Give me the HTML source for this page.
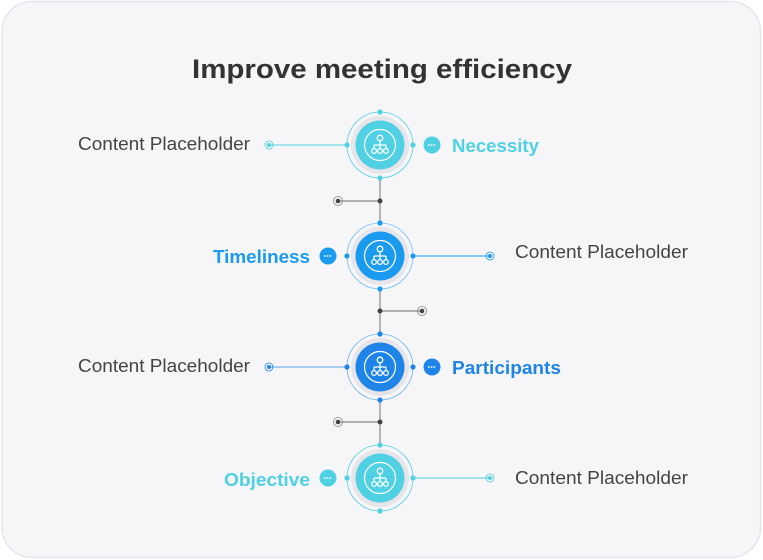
<!DOCTYPE html>
<html><head><meta charset="utf-8"><style>
html,body{margin:0;padding:0;background:#fff;}
svg{display:block;}
text{font-family:"Liberation Sans","DejaVu Sans",sans-serif;}
</style></head><body>
<svg width="763" height="560" viewBox="0 0 763 560">
<defs>
<g id="ico" fill="none" stroke="#fff" stroke-width="1.3">
  <circle r="15.5" stroke-width="1.2"/>
  <circle cx="0" cy="-7" r="2.8"/>
  <path d="M0 -4.2 V0 M-6 0 H6 M-6 0 V3.5 M0 0 V3.5 M6 0 V3.5"/>
  <circle cx="-6" cy="6" r="2.4"/><circle cx="0" cy="6" r="2.4"/><circle cx="6" cy="6" r="2.4"/>
</g>
<g id="chat">
  <path d="M-4 -1 H4" stroke="#fff" stroke-width="1.6" stroke-dasharray="1.6 1.2"/>
</g>
</defs>
<rect x="2" y="1.5" width="758.5" height="556" rx="30" fill="#f6f6f9" stroke="#e4e6ee" stroke-width="1.5"/>
<text x="192" y="78" font-size="27" font-weight="bold" fill="#333" textLength="380" lengthAdjust="spacingAndGlyphs">Improve meeting efficiency</text>

<g stroke="#8a8a8a" stroke-width="1.2">
<line x1="380" y1="178" x2="380" y2="223"/>
<line x1="380" y1="289" x2="380" y2="334"/>
<line x1="380" y1="400" x2="380" y2="445"/>
<line x1="338" y1="201" x2="380" y2="201"/>
<line x1="380" y1="311" x2="422" y2="311"/>
<line x1="338" y1="422" x2="380" y2="422"/>
</g>
<g fill="#444">
<circle cx="380" cy="201" r="2.5"/><circle cx="380" cy="311" r="2.5"/><circle cx="380" cy="422" r="2.5"/>
<circle cx="338" cy="201" r="2.3"/><circle cx="422" cy="311" r="2.3"/><circle cx="338" cy="422" r="2.3"/>
</g>
<g fill="none" stroke="#888" stroke-width="0.8">
<circle cx="338" cy="201" r="4.5"/><circle cx="422" cy="311" r="4.5"/><circle cx="338" cy="422" r="4.5"/>
</g>

<g transform="translate(380,145)">
<line x1="-33" y1="0" x2="-111" y2="0" stroke="#4fd0e3" stroke-width="1"/>
<circle cx="-111" cy="0" r="4" fill="none" stroke="#4fd0e3" stroke-width="0.8"/><circle cx="-111" cy="0" r="2" fill="#4fd0e3"/>
<circle r="33" fill="none" stroke="#4fd0e3" stroke-width="0.8"/>
<circle r="29" fill="#e6e6ea"/><circle r="24.5" fill="#4fd0e3"/>
<use href="#ico"/>
<g fill="#4fd0e3"><circle cy="-33" r="2.6"/><circle cy="33" r="2.6"/><circle cx="-33" r="2.6"/><circle cx="33" r="2.6"/></g>
<circle cx="52" cy="0" r="8.5" fill="#4fd0e3"/><use href="#chat" x="52" y="1"/>
</g>
<text x="78" y="150" font-size="18" fill="#444" textLength="172" lengthAdjust="spacingAndGlyphs">Content Placeholder</text>
<text x="452" y="152" font-size="18" font-weight="bold" fill="#4fd0e3" textLength="87" lengthAdjust="spacingAndGlyphs">Necessity</text>

<g transform="translate(380,256)">
<line x1="33" y1="0" x2="110" y2="0" stroke="#1a9bef" stroke-width="1"/>
<circle cx="110" cy="0" r="4" fill="none" stroke="#1a9bef" stroke-width="0.8"/><circle cx="110" cy="0" r="2" fill="#1a9bef"/>
<circle r="33" fill="none" stroke="#1a9bef" stroke-width="0.8" opacity="0.6"/>
<circle r="29" fill="#e6e6ea"/><circle r="24.5" fill="#1a9bef"/>
<use href="#ico"/>
<g fill="#1a9bef"><circle cy="-33" r="2.6"/><circle cy="33" r="2.6"/><circle cx="-33" r="2.6"/><circle cx="33" r="2.6"/></g>
<circle cx="-52" cy="0" r="8.5" fill="#1a9bef"/><use href="#chat" x="-52" y="1"/>
</g>
<text x="515" y="258" font-size="18" fill="#444" textLength="173" lengthAdjust="spacingAndGlyphs">Content Placeholder</text>
<text x="213" y="263" font-size="18" font-weight="bold" fill="#1a9bef" textLength="97" lengthAdjust="spacingAndGlyphs">Timeliness</text>

<g transform="translate(380,367)">
<line x1="-33" y1="0" x2="-111" y2="0" stroke="#1e84e8" stroke-width="1" opacity="0.7"/>
<circle cx="-111" cy="0" r="4" fill="none" stroke="#1e84e8" stroke-width="0.8"/><circle cx="-111" cy="0" r="2" fill="#1e84e8"/>
<circle r="33" fill="none" stroke="#1e84e8" stroke-width="0.8" opacity="0.6"/>
<circle r="29" fill="#e6e6ea"/><circle r="24.5" fill="#1e84e8"/>
<use href="#ico"/>
<g fill="#1e84e8"><circle cy="-33" r="2.6"/><circle cy="33" r="2.6"/><circle cx="-33" r="2.6"/><circle cx="33" r="2.6"/></g>
<circle cx="52" cy="0" r="8.5" fill="#1e84e8"/><use href="#chat" x="52" y="1"/>
</g>
<text x="78" y="372" font-size="18" fill="#444" textLength="172" lengthAdjust="spacingAndGlyphs">Content Placeholder</text>
<text x="452" y="374" font-size="18" font-weight="bold" fill="#1e84e8" textLength="109" lengthAdjust="spacingAndGlyphs">Participants</text>

<g transform="translate(380,478)">
<line x1="33" y1="0" x2="110" y2="0" stroke="#4fd0e3" stroke-width="1"/>
<circle cx="110" cy="0" r="4" fill="none" stroke="#4fd0e3" stroke-width="0.8"/><circle cx="110" cy="0" r="2" fill="#4fd0e3"/>
<circle r="33" fill="none" stroke="#4fd0e3" stroke-width="0.8"/>
<circle r="29" fill="#e6e6ea"/><circle r="24.5" fill="#4fd0e3"/>
<use href="#ico"/>
<g fill="#4fd0e3"><circle cy="-33" r="2.6"/><circle cy="33" r="2.6"/><circle cx="-33" r="2.6"/><circle cx="33" r="2.6"/></g>
<circle cx="-52" cy="0" r="8.5" fill="#4fd0e3"/><use href="#chat" x="-52" y="1"/>
</g>
<text x="515" y="484" font-size="18" fill="#444" textLength="173" lengthAdjust="spacingAndGlyphs">Content Placeholder</text>
<text x="224" y="486" font-size="18" font-weight="bold" fill="#4fd0e3" textLength="86" lengthAdjust="spacingAndGlyphs">Objective</text>
</svg>
</body></html>
